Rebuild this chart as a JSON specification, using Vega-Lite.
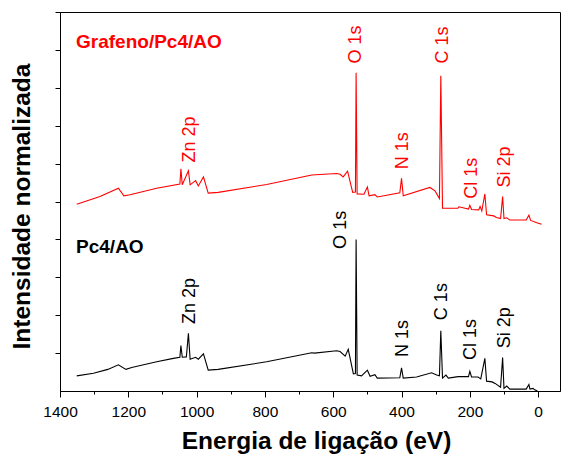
{
  "$schema": "https://vega.github.io/schema/vega-lite/v6.json",
  "width": 500,
  "height": 379,
  "autosize": "none",
  "padding": {"left": 60, "top": 12, "right": 1, "bottom": 67},
  "background": "white",
  "config": {
    "font": "Liberation Sans",
    "view": {"stroke": "black", "strokeWidth": 1},
    "axis": {"grid": false, "domainColor": "black", "tickColor": "black", "labelColor": "black", "titleColor": "black", "domainWidth": 1, "tickWidth": 1}
  },
  "datasets": {
    "spectra": [
      {"series": "Pc4/AO", "E": 1351, "v": 0.40},
      {"series": "Pc4/AO", "E": 1302, "v": 0.47},
      {"series": "Pc4/AO", "E": 1260, "v": 0.57},
      {"series": "Pc4/AO", "E": 1229, "v": 0.69},
      {"series": "Pc4/AO", "E": 1207, "v": 0.57},
      {"series": "Pc4/AO", "E": 1190, "v": 0.62},
      {"series": "Pc4/AO", "E": 1117, "v": 0.77},
      {"series": "Pc4/AO", "E": 1068, "v": 0.86},
      {"series": "Pc4/AO", "E": 1049, "v": 0.89},
      {"series": "Pc4/AO", "E": 1046, "v": 1.20},
      {"series": "Pc4/AO", "E": 1042, "v": 0.89},
      {"series": "Pc4/AO", "E": 1030, "v": 0.90},
      {"series": "Pc4/AO", "E": 1024, "v": 1.52},
      {"series": "Pc4/AO", "E": 1019, "v": 0.84},
      {"series": "Pc4/AO", "E": 1003, "v": 0.89},
      {"series": "Pc4/AO", "E": 995, "v": 0.84},
      {"series": "Pc4/AO", "E": 980, "v": 0.98},
      {"series": "Pc4/AO", "E": 966, "v": 0.55},
      {"series": "Pc4/AO", "E": 937, "v": 0.57},
      {"series": "Pc4/AO", "E": 795, "v": 0.77},
      {"series": "Pc4/AO", "E": 663, "v": 1.01},
      {"series": "Pc4/AO", "E": 655, "v": 1.00},
      {"series": "Pc4/AO", "E": 590, "v": 1.06},
      {"series": "Pc4/AO", "E": 580, "v": 1.04},
      {"series": "Pc4/AO", "E": 565, "v": 0.92},
      {"series": "Pc4/AO", "E": 556, "v": 1.10},
      {"series": "Pc4/AO", "E": 541, "v": 0.45},
      {"series": "Pc4/AO", "E": 535, "v": 0.46},
      {"series": "Pc4/AO", "E": 533, "v": 4.00},
      {"series": "Pc4/AO", "E": 530, "v": 0.42},
      {"series": "Pc4/AO", "E": 517, "v": 0.40},
      {"series": "Pc4/AO", "E": 500, "v": 0.55},
      {"series": "Pc4/AO", "E": 492, "v": 0.39},
      {"series": "Pc4/AO", "E": 478, "v": 0.43},
      {"series": "Pc4/AO", "E": 471, "v": 0.34},
      {"series": "Pc4/AO", "E": 405, "v": 0.35},
      {"series": "Pc4/AO", "E": 400, "v": 0.61},
      {"series": "Pc4/AO", "E": 395, "v": 0.34},
      {"series": "Pc4/AO", "E": 356, "v": 0.37},
      {"series": "Pc4/AO", "E": 312, "v": 0.48},
      {"series": "Pc4/AO", "E": 297, "v": 0.42},
      {"series": "Pc4/AO", "E": 289, "v": 0.40},
      {"series": "Pc4/AO", "E": 285, "v": 1.59},
      {"series": "Pc4/AO", "E": 280, "v": 0.34},
      {"series": "Pc4/AO", "E": 270, "v": 0.42},
      {"series": "Pc4/AO", "E": 263, "v": 0.34},
      {"series": "Pc4/AO", "E": 234, "v": 0.38},
      {"series": "Pc4/AO", "E": 204, "v": 0.38},
      {"series": "Pc4/AO", "E": 200, "v": 0.52},
      {"series": "Pc4/AO", "E": 195, "v": 0.37},
      {"series": "Pc4/AO", "E": 176, "v": 0.37},
      {"series": "Pc4/AO", "E": 168, "v": 0.32},
      {"series": "Pc4/AO", "E": 156, "v": 0.86},
      {"series": "Pc4/AO", "E": 151, "v": 0.26},
      {"series": "Pc4/AO", "E": 135, "v": 0.24},
      {"series": "Pc4/AO", "E": 126, "v": 0.20},
      {"series": "Pc4/AO", "E": 110, "v": 0.10},
      {"series": "Pc4/AO", "E": 104, "v": 0.88},
      {"series": "Pc4/AO", "E": 100, "v": 0.07},
      {"series": "Pc4/AO", "E": 92, "v": 0.13},
      {"series": "Pc4/AO", "E": 83, "v": 0.05},
      {"series": "Pc4/AO", "E": 35, "v": 0.05},
      {"series": "Pc4/AO", "E": 27, "v": 0.17},
      {"series": "Pc4/AO", "E": 24, "v": 0.05},
      {"series": "Pc4/AO", "E": 15, "v": 0.07},
      {"series": "Pc4/AO", "E": 10, "v": 0.03},
      {"series": "Pc4/AO", "E": 2, "v": 0.00},
      {"series": "Grafeno/Pc4/AO", "E": 1351, "v": 4.93},
      {"series": "Grafeno/Pc4/AO", "E": 1283, "v": 5.13},
      {"series": "Grafeno/Pc4/AO", "E": 1229, "v": 5.35},
      {"series": "Grafeno/Pc4/AO", "E": 1213, "v": 5.15},
      {"series": "Grafeno/Pc4/AO", "E": 1195, "v": 5.18},
      {"series": "Grafeno/Pc4/AO", "E": 1117, "v": 5.35},
      {"series": "Grafeno/Pc4/AO", "E": 1049, "v": 5.46},
      {"series": "Grafeno/Pc4/AO", "E": 1046, "v": 5.86},
      {"series": "Grafeno/Pc4/AO", "E": 1042, "v": 5.44},
      {"series": "Grafeno/Pc4/AO", "E": 1024, "v": 5.81},
      {"series": "Grafeno/Pc4/AO", "E": 1019, "v": 5.44},
      {"series": "Grafeno/Pc4/AO", "E": 1003, "v": 5.55},
      {"series": "Grafeno/Pc4/AO", "E": 995, "v": 5.41},
      {"series": "Grafeno/Pc4/AO", "E": 980, "v": 5.65},
      {"series": "Grafeno/Pc4/AO", "E": 966, "v": 5.22},
      {"series": "Grafeno/Pc4/AO", "E": 937, "v": 5.24},
      {"series": "Grafeno/Pc4/AO", "E": 795, "v": 5.45},
      {"series": "Grafeno/Pc4/AO", "E": 663, "v": 5.70},
      {"series": "Grafeno/Pc4/AO", "E": 590, "v": 5.74},
      {"series": "Grafeno/Pc4/AO", "E": 580, "v": 5.72},
      {"series": "Grafeno/Pc4/AO", "E": 571, "v": 5.65},
      {"series": "Grafeno/Pc4/AO", "E": 558, "v": 5.80},
      {"series": "Grafeno/Pc4/AO", "E": 543, "v": 5.24},
      {"series": "Grafeno/Pc4/AO", "E": 535, "v": 5.25},
      {"series": "Grafeno/Pc4/AO", "E": 533, "v": 8.40},
      {"series": "Grafeno/Pc4/AO", "E": 530, "v": 5.20},
      {"series": "Grafeno/Pc4/AO", "E": 510, "v": 5.19},
      {"series": "Grafeno/Pc4/AO", "E": 500, "v": 5.38},
      {"series": "Grafeno/Pc4/AO", "E": 495, "v": 5.15},
      {"series": "Grafeno/Pc4/AO", "E": 478, "v": 5.18},
      {"series": "Grafeno/Pc4/AO", "E": 471, "v": 5.12},
      {"series": "Grafeno/Pc4/AO", "E": 405, "v": 5.23},
      {"series": "Grafeno/Pc4/AO", "E": 400, "v": 5.61},
      {"series": "Grafeno/Pc4/AO", "E": 395, "v": 5.15},
      {"series": "Grafeno/Pc4/AO", "E": 317, "v": 5.37},
      {"series": "Grafeno/Pc4/AO", "E": 302, "v": 5.28},
      {"series": "Grafeno/Pc4/AO", "E": 289, "v": 5.08},
      {"series": "Grafeno/Pc4/AO", "E": 285, "v": 8.32},
      {"series": "Grafeno/Pc4/AO", "E": 280, "v": 4.82},
      {"series": "Grafeno/Pc4/AO", "E": 235, "v": 4.82},
      {"series": "Grafeno/Pc4/AO", "E": 232, "v": 4.86},
      {"series": "Grafeno/Pc4/AO", "E": 204, "v": 4.80},
      {"series": "Grafeno/Pc4/AO", "E": 200, "v": 4.90},
      {"series": "Grafeno/Pc4/AO", "E": 195, "v": 4.79},
      {"series": "Grafeno/Pc4/AO", "E": 174, "v": 4.78},
      {"series": "Grafeno/Pc4/AO", "E": 170, "v": 4.87},
      {"series": "Grafeno/Pc4/AO", "E": 165, "v": 4.75},
      {"series": "Grafeno/Pc4/AO", "E": 156, "v": 5.20},
      {"series": "Grafeno/Pc4/AO", "E": 151, "v": 4.65},
      {"series": "Grafeno/Pc4/AO", "E": 130, "v": 4.62},
      {"series": "Grafeno/Pc4/AO", "E": 122, "v": 4.58},
      {"series": "Grafeno/Pc4/AO", "E": 110, "v": 4.55},
      {"series": "Grafeno/Pc4/AO", "E": 104, "v": 5.13},
      {"series": "Grafeno/Pc4/AO", "E": 100, "v": 4.55},
      {"series": "Grafeno/Pc4/AO", "E": 92, "v": 4.57},
      {"series": "Grafeno/Pc4/AO", "E": 83, "v": 4.51},
      {"series": "Grafeno/Pc4/AO", "E": 35, "v": 4.51},
      {"series": "Grafeno/Pc4/AO", "E": 27, "v": 4.64},
      {"series": "Grafeno/Pc4/AO", "E": 22, "v": 4.50},
      {"series": "Grafeno/Pc4/AO", "E": 4, "v": 4.44},
      {"series": "Grafeno/Pc4/AO", "E": -10, "v": 4.40}
    ],
    "peaks": [
      {"series": "Grafeno/Pc4/AO", "label": "O 1s", "E": 533, "v": 8.64},
      {"series": "Grafeno/Pc4/AO", "label": "C 1s", "E": 278, "v": 8.64},
      {"series": "Grafeno/Pc4/AO", "label": "Zn 2p", "E": 1018, "v": 6.03},
      {"series": "Grafeno/Pc4/AO", "label": "N 1s", "E": 395, "v": 5.85},
      {"series": "Grafeno/Pc4/AO", "label": "Cl 1s", "E": 195, "v": 5.07},
      {"series": "Grafeno/Pc4/AO", "label": "Si 2p", "E": 98, "v": 5.37},
      {"series": "Pc4/AO", "label": "O 1s", "E": 578, "v": 3.75},
      {"series": "Pc4/AO", "label": "Zn 2p", "E": 1018, "v": 1.77},
      {"series": "Pc4/AO", "label": "N 1s", "E": 395, "v": 0.90},
      {"series": "Pc4/AO", "label": "C 1s", "E": 282, "v": 1.87},
      {"series": "Pc4/AO", "label": "Cl 1s", "E": 197, "v": 0.82},
      {"series": "Pc4/AO", "label": "Si 2p", "E": 98, "v": 1.13}
    ],
    "names": [
      {"series": "Grafeno/Pc4/AO", "label": "Grafeno/Pc4/AO", "E": 1353, "v": 9.05},
      {"series": "Pc4/AO", "label": "Pc4/AO", "E": 1353, "v": 3.65}
    ]
  },
  "encoding": {
    "x": {
      "field": "E", "type": "quantitative",
      "scale": {"domain": [-64, 1400], "reverse": true, "nice": false, "zero": false},
      "axis": {
        "title": "Energia de ligação (eV)",
        "titleFontSize": 24.5, "titleFontWeight": "bold",
        "titleX": 256, "titleY": 57, "titleBaseline": "alphabetic", "titleAlign": "center",
        "values": [0, 100, 200, 300, 400, 500, 600, 700, 800, 900, 1000, 1100, 1200, 1300, 1400],
        "labelExpr": "datum.value % 200 === 0 ? datum.label : ''",
        "format": "d",
        "labelFontSize": 15.5, "labelPadding": 7, "labelOverlap": false, "labelFlush": false,
        "tickSize": {"condition": {"test": "datum.value % 200 === 0", "value": 6}, "value": 3}
      }
    },
    "y": {
      "field": "v", "type": "quantitative",
      "scale": {"domain": [0, 10], "nice": false},
      "axis": {
        "title": "Intensidade normalizada",
        "titleFontSize": 24.5, "titleFontWeight": "bold",
        "titleX": -38, "titleY": 194, "titleAngle": 270, "titleBaseline": "middle", "titleAlign": "center",
        "values": [1, 2, 3, 4, 5, 6, 7, 8, 9, 10],
        "labels": false, "tickSize": 5
      }
    },
    "color": {
      "field": "series", "type": "nominal",
      "scale": {"domain": ["Pc4/AO", "Grafeno/Pc4/AO"], "range": ["#000000", "#ff0000"]},
      "legend": null
    }
  },
  "layer": [
    {
      "data": {"name": "spectra"},
      "mark": {"type": "line", "strokeWidth": 1.1, "clip": true},
      "encoding": {"detail": {"field": "series"}}
    },
    {
      "data": {"name": "peaks"},
      "mark": {"type": "text", "angle": 270, "align": "left", "baseline": "middle", "fontSize": 18},
      "encoding": {"text": {"field": "label"}}
    },
    {
      "data": {"name": "names"},
      "mark": {"type": "text", "align": "left", "baseline": "alphabetic", "fontSize": 19, "fontWeight": "bold"},
      "encoding": {"text": {"field": "label"}}
    }
  ]
}
